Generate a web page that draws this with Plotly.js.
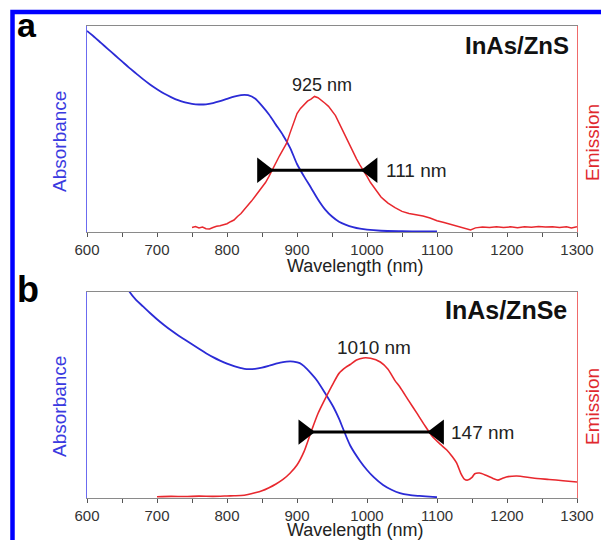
<!DOCTYPE html>
<html>
<head>
<meta charset="utf-8">
<script src="https://cdn.plot.ly/plotly-3.0.1.min.js"></script>
<style>html,body{margin:0;padding:0;background:#fff;}</style>
</head>
<body>
<div id="chart" style="width:601px;height:540px;"></div>
<script>
// ---- Panel a: InAs/ZnS ----
const absA_x = [600,610,620,630,640,650,660,670,680,690,700,710,720,730,740,750,760,770,780,790,800,810,820,825,830,840,850,860,870,880,890,900,910,920,930,940,950,960,970,980,990,1000,1020,1050,1080,1100];
const absA_y = [0.976,0.948,0.918,0.888,0.858,0.828,0.798,0.77,0.742,0.716,0.693,0.672,0.655,0.64,0.629,0.622,0.619,0.62,0.626,0.635,0.646,0.657,0.664,0.666,0.664,0.648,0.612,0.57,0.52,0.47,0.41,0.33,0.27,0.215,0.158,0.11,0.075,0.05,0.035,0.024,0.016,0.011,0.006,0.004,0.003,0.003];
const emA_x = [750,755,760,765,770,775,780,785,790,795,800,805,810,815,820,825,830,835,840,845,850,855,860,865,870,875,880,885,890,895,900,905,910,915,920,925,930,935,940,945,950,955,960,965,970,975,980,985,990,995,1000,1005,1010,1015,1020,1025,1030,1040,1050,1060,1070,1080,1090,1100,1110,1120,1130,1140,1148,1155,1165,1175,1185,1195,1205,1215,1225,1235,1245,1255,1265,1275,1285,1292,1300];
const emA_y = [0.022,0.026,0.02,0.024,0.016,0.015,0.022,0.028,0.03,0.036,0.04,0.05,0.058,0.075,0.09,0.11,0.128,0.15,0.172,0.195,0.215,0.24,0.27,0.305,0.335,0.37,0.4,0.43,0.48,0.53,0.575,0.6,0.62,0.635,0.645,0.658,0.652,0.64,0.625,0.61,0.59,0.565,0.53,0.495,0.455,0.42,0.385,0.355,0.325,0.3,0.27,0.24,0.215,0.195,0.17,0.155,0.14,0.118,0.1,0.09,0.085,0.078,0.068,0.055,0.046,0.036,0.028,0.018,0.01,0.02,0.024,0.022,0.026,0.022,0.025,0.021,0.026,0.023,0.027,0.024,0.026,0.022,0.025,0.019,0.026];
const fwhmA_x = [851, 1007];
const fwhmA_y = [0.30, 0.30];
const peakA = {x: 936, y: 0.715, text: "925 nm"};
const widthA = {x: 1024, y: 0.30, text: "111 nm"};

// ---- Panel b: InAs/ZnSe ----
const absB_x = [640,661,670,680,690,700,710,720,730,740,750,760,770,780,790,800,810,820,828,840,850,860,870,880,890,895,904,910,920,928,940,952,960,966,976,990,1000,1010,1023,1035,1047,1060,1075,1094,1100];
const absB_y = [1.15,1.0,0.962,0.93,0.898,0.868,0.84,0.814,0.79,0.768,0.746,0.724,0.703,0.684,0.667,0.652,0.64,0.631,0.626,0.627,0.633,0.642,0.652,0.66,0.663,0.662,0.655,0.64,0.605,0.573,0.51,0.442,0.385,0.335,0.255,0.18,0.136,0.1,0.063,0.04,0.024,0.015,0.01,0.005,0.004];
const emB_x = [700,720,740,760,780,800,810,820,830,840,850,860,870,880,890,900,910,920,930,940,952,960,970,976,985,995,1005,1019,1030,1040,1047,1060,1071,1082,1094,1105,1114,1122,1128,1134,1139,1144,1150,1154,1161,1170,1180,1187,1193,1199,1214,1237,1260,1280,1300];
const emB_y = [0.006,0.008,0.007,0.009,0.008,0.01,0.011,0.012,0.017,0.025,0.035,0.05,0.068,0.09,0.12,0.16,0.225,0.32,0.41,0.48,0.558,0.605,0.635,0.648,0.67,0.68,0.678,0.66,0.625,0.57,0.539,0.47,0.413,0.355,0.296,0.26,0.233,0.2,0.17,0.12,0.092,0.087,0.1,0.118,0.121,0.11,0.095,0.087,0.095,0.102,0.107,0.097,0.09,0.084,0.078];
const fwhmB_x = [910, 1102];
const fwhmB_y = [0.32, 0.32];
const peakB = {x: 1010, y: 0.733, text: "1010 nm"};
const widthB = {x: 1117, y: 0.32, text: "147 nm"};

const panelLabels = ["a", "b"];
const sampleNames = ["InAs/ZnS", "InAs/ZnSe"];
const xTickVals = [600,700,800,900,1000,1100,1200,1300];

const W = 601, H = 540;
const px = v => v / W;
const py = v => 1 - v / H;
const FONT = "Liberation Sans, Arial, Helvetica, sans-serif";
const BLUE = "#2b2bd6", RED = "#e8282e";

const traces = [
  {x: absA_x, y: absA_y, xaxis: "x", yaxis: "y", mode: "lines", line: {color: BLUE, width: 1.8, shape: "spline", smoothing: 0.8}, hoverinfo: "skip"},
  {x: emA_x, y: emA_y, xaxis: "x", yaxis: "y2", mode: "lines", line: {color: RED, width: 1.5}, hoverinfo: "skip"},
  {x: fwhmA_x, y: fwhmA_y, xaxis: "x", yaxis: "y2", mode: "lines+markers", line: {color: "#000", width: 3},
   marker: {symbol: ["triangle-right", "triangle-left"], size: 22, color: "#000"}, hoverinfo: "skip"},
  {x: absB_x, y: absB_y, xaxis: "x2", yaxis: "y3", mode: "lines", line: {color: BLUE, width: 1.8, shape: "spline", smoothing: 0.8}, hoverinfo: "skip"},
  {x: emB_x, y: emB_y, xaxis: "x2", yaxis: "y4", mode: "lines", line: {color: RED, width: 1.6, shape: "spline", smoothing: 0.6}, hoverinfo: "skip"},
  {x: fwhmB_x, y: fwhmB_y, xaxis: "x2", yaxis: "y4", mode: "lines+markers", line: {color: "#000", width: 3},
   marker: {symbol: ["triangle-right", "triangle-left"], size: 22, color: "#000"}, hoverinfo: "skip"}
];

const xDom = [px(87), px(577)];
const yDomA = [py(232), py(26)];
const yDomB = [py(498), py(292)];

function xAxis(anchor) {
  return {
    domain: xDom, anchor: anchor, range: [600, 1300], fixedrange: true,
    tickmode: "array", tickvals: xTickVals, ticks: "outside", ticklen: 4, tickwidth: 1, tickcolor: "#555",
    minor: {dtick: 50, tick0: 600, ticks: "outside", ticklen: 4, tickwidth: 1, tickcolor: "#555"},
    showline: true, linecolor: "#8a8a8a", linewidth: 1.2, mirror: true,
    showgrid: false, zeroline: false, ticklabelstandoff: 0,
    tickfont: {family: FONT, size: 15, color: "#333"}
  };
}
function yAxis(dom, anchor, color, side, overlay) {
  const a = {
    domain: dom, anchor: anchor, range: [0, 1], fixedrange: true,
    showline: true, linecolor: color, linewidth: 1.2,
    showticklabels: false, ticks: "", showgrid: false, zeroline: false, side: side
  };
  if (overlay) a.overlaying = overlay;
  return a;
}

const ann = [];
function txt(x, y, text, size, color, opts) {
  ann.push(Object.assign({xref: "paper", yref: "paper", x: x, y: y, text: text, showarrow: false,
    font: {family: FONT, size: size, color: color}}, opts || {}));
}
// panel letters
txt(px(15), py(25), "<b>" + panelLabels[0] + "</b>", 34, "#000", {xanchor: "left", yanchor: "middle"});
txt(px(15), py(289), "<b>" + panelLabels[1] + "</b>", 36, "#000", {xanchor: "left", yanchor: "middle"});
// sample names
txt(px(571), py(45), "<b>" + sampleNames[0] + "</b>", 24, "#111", {xanchor: "right", yanchor: "middle"});
txt(px(569), py(310), "<b>" + sampleNames[1] + "</b>", 25, "#111", {xanchor: "right", yanchor: "middle"});
// axis titles
txt(px(59), py(142), "Absorbance", 19, "#3a3ae0", {textangle: -90, xanchor: "center", yanchor: "middle"});
txt(px(59), py(407), "Absorbance", 19, "#3a3ae0", {textangle: -90, xanchor: "center", yanchor: "middle"});
txt(px(592), py(143), "Emission", 19, "#e0282e", {textangle: -90, xanchor: "center", yanchor: "middle"});
txt(px(592), py(407), "Emission", 19, "#e0282e", {textangle: -90, xanchor: "center", yanchor: "middle"});
txt(px(355), py(266), "Wavelength (nm)", 18, "#222", {xanchor: "center", yanchor: "middle"});
txt(px(355), py(530), "Wavelength (nm)", 18, "#222", {xanchor: "center", yanchor: "middle"});
// data annotations
ann.push({xref: "x", yref: "y2", x: peakA.x, y: peakA.y, text: peakA.text, showarrow: false, xanchor: "center", yanchor: "middle", font: {family: FONT, size: 18, color: "#222"}});
ann.push({xref: "x", yref: "y2", x: widthA.x, y: widthA.y, text: widthA.text, showarrow: false, xanchor: "left", yanchor: "middle", font: {family: FONT, size: 19, color: "#222"}});
ann.push({xref: "x2", yref: "y4", x: peakB.x, y: peakB.y, text: peakB.text, showarrow: false, xanchor: "center", yanchor: "middle", font: {family: FONT, size: 19, color: "#222"}});
ann.push({xref: "x2", yref: "y4", x: widthB.x, y: widthB.y, text: widthB.text, showarrow: false, xanchor: "left", yanchor: "middle", font: {family: FONT, size: 19, color: "#222"}});

const layout = {
  width: W, height: H, margin: {l: 0, r: 0, t: 0, b: 0},
  paper_bgcolor: "#fff", plot_bgcolor: "#fff", showlegend: false,
  xaxis: xAxis("y"),
  yaxis: yAxis(yDomA, "x", "#6b6bf0", "left"),
  yaxis2: yAxis(yDomA, "x", "#f06a6a", "right", "y"),
  xaxis2: xAxis("y3"),
  yaxis3: yAxis(yDomB, "x2", "#6b6bf0", "left"),
  yaxis4: yAxis(yDomB, "x2", "#f06a6a", "right", "y3"),
  annotations: ann,
  shapes: [{type: "rect", xref: "paper", yref: "paper", x0: px(12.5), x1: px(700), y0: py(700), y1: py(12),
            line: {color: "#0000ff", width: 4.5}, fillcolor: "rgba(0,0,0,0)", layer: "above"}]
};

Plotly.newPlot("chart", traces, layout, {displayModeBar: false, staticPlot: true});
</script>
</body>
</html>
